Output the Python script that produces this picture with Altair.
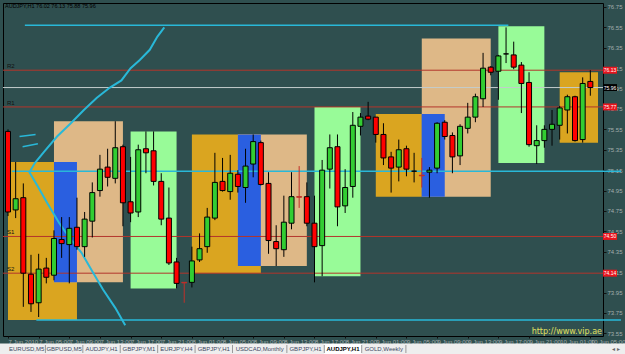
import altair as alt
import pandas as pd

symbol = "AUDJPY,H1"
bars = list(range(77))
opens = [75.53, 74.76, 74.88, 74.13, 73.85, 74.19, 74.12, 74.47, 74.42, 74.59,
         74.40, 74.65, 74.95, 75.18, 75.07, 75.38, 74.84, 74.74, 75.36, 75.34,
         75.04, 74.68, 74.25, 74.05, 74.05, 74.27, 74.40, 74.68, 75.04, 74.94,
         75.11, 74.98, 75.21, 75.42, 75.02, 74.45, 74.37, 74.63, 74.89, 74.89,
         74.63, 74.41, 75.16, 75.38, 74.80, 74.99, 75.58, 75.68, 75.67, 75.50,
         75.28, 75.18, 75.36, 75.14, 75.10, 75.13, 75.17, 75.62, 75.49, 75.29,
         75.56, 75.67, 75.85, 76.16, 76.12, 76.29, 76.28, 76.18, 76.01, 75.39,
         75.44, 75.55, 75.59, 75.74, 75.87, 75.45, 76.02]
highs = [75.55, 75.23, 75.02, 74.32, 74.33, 74.29, 74.56, 74.69, 74.69, 74.88,
         74.74, 75.03, 75.30, 75.36, 75.63, 75.40, 75.28, 75.40, 75.53, 75.53,
         75.12, 74.98, 74.29, 74.05, 74.40, 74.53, 74.78, 75.32, 75.27, 75.30,
         75.15, 75.36, 75.50, 75.44, 75.13, 74.61, 74.90, 75.13, 75.19, 75.03,
         74.90, 75.25, 75.50, 75.50, 75.16, 75.72, 75.71, 75.82, 75.67, 75.61,
         75.33, 75.45, 75.39, 75.32, 75.27, 75.18, 75.62, 75.64, 75.52, 75.60,
         75.81, 75.90, 76.30, 76.17, 76.28, 76.55, 76.41, 76.21, 76.11, 75.59,
         75.59, 75.74, 75.78, 75.89, 75.88, 76.06, 76.13]
lows = [74.70, 74.68, 73.81, 73.76, 73.71, 74.04, 74.07, 74.29, 74.04, 74.37,
        74.30, 74.49, 74.89, 74.99, 75.02, 74.60, 74.64, 74.69, 75.12, 75.00,
        74.61, 74.22, 73.99, 73.85, 74.00, 74.25, 74.34, 74.66, 74.94, 74.86,
        74.93, 74.83, 75.08, 75.00, 74.33, 74.21, 74.30, 74.57, 74.78, 74.60,
        74.05, 74.11, 74.97, 74.60, 74.73, 74.88, 75.49, 75.64, 75.42, 75.20,
        74.93, 75.04, 75.09, 75.03, 74.98, 74.88, 75.12, 75.45, 75.12, 75.20,
        75.51, 75.62, 75.77, 76.08, 75.84, 76.20, 76.14, 75.71, 75.38, 75.21,
        75.37, 75.39, 75.45, 75.51, 75.43, 75.42, 75.88]
closes = [74.74, 74.87, 74.14, 73.84, 74.18, 74.10, 74.48, 74.43, 74.58, 74.40,
          74.67, 74.93, 75.16, 75.08, 75.37, 74.83, 74.73, 75.35, 75.32, 75.04,
          74.67, 74.24, 74.04, 74.045, 74.26, 74.38, 74.69, 75.03, 74.95, 75.12,
          74.99, 75.19, 75.43, 75.01, 74.46, 74.38, 74.64, 74.89, 74.885, 74.63,
          74.40, 75.15, 75.37, 74.79, 74.98, 75.59, 75.67, 75.65, 75.50, 75.27,
          75.17, 75.35, 75.16, 75.14, 75.095, 75.15, 75.61, 75.48, 75.28, 75.58,
          75.67, 75.87, 76.15, 76.11, 76.27, 76.29, 76.16, 76.00, 75.40, 75.44,
          75.55, 75.60, 75.76, 75.87, 75.44, 76.00, 75.96]

time_ticks = [0, 4, 8, 12, 16, 20, 24, 28, 32, 36, 40, 44, 48, 52, 56, 60, 64, 68, 72, 76]
time_labels = ["7 Jun 2010", "7 Jun 05:00", "7 Jun 09:00", "7 Jun 13:00", "7 Jun 17:00",
               "7 Jun 21:00", "8 Jun 01:00", "8 Jun 05:00", "8 Jun 09:00", "8 Jun 13:00",
               "8 Jun 17:00", "8 Jun 21:00", "9 Jun 01:00", "9 Jun 05:00", "9 Jun 09:00",
               "9 Jun 13:00", "9 Jun 17:00", "9 Jun 21:00", "10 Jun 01:00", "10 Jun 05:00"]
price_ticks = [76.75, 76.55, 76.35, 76.15, 75.95, 75.75, 75.55, 75.35, 75.15,
               74.95, 74.75, 74.55, 74.35, 74.15, 73.95, 73.75, 73.55]

# session boxes
box_kind = ["orange", "tan", "blue", "green", "orange", "tan", "blue", "green",
            "orange", "tan", "blue", "green", "orange"]
box_start = [0, 6, 6, 16, 24, 30, 30, 40, 48, 54, 54, 64, 72]
box_end = [9, 15, 9, 22, 33, 39, 33, 46, 54, 63, 57, 70, 77]
box_top = [75.23, 75.63, 75.23, 75.53, 75.50, 75.50, 75.50, 75.77, 75.70, 76.44, 75.70, 76.56, 76.11]
box_bottom = [73.68, 74.05, 74.05, 73.99, 74.14, 74.21, 74.21, 74.11, 74.89, 74.89, 74.89, 75.22, 75.42]

# horizontal levels
level_prices = [76.13, 75.77, 74.50, 74.14]
level_names = ["R2", "R1", "S1", "S2"]
bid_price = 75.96

# cyan trend lines
trend_start = [2.2, 0.5, 3.7]
trend_end = [65.3, 80.0, 80.0]
trend_price = [76.57, 75.14, 73.68]

# hand-drawn cyan curve
curve_x = [20.4, 19.5, 18.5, 17.2, 16.0, 14.8, 13.3, 11.6, 9.9, 8.2, 6.4, 4.7, 3.5, 2.8,
           3.9, 5.1, 6.7, 8.0, 9.6, 10.9, 12.4, 14.0, 15.3]
curve_p = [76.55, 76.46, 76.33, 76.23, 76.15, 76.03, 75.96, 75.86, 75.74, 75.61, 75.48, 75.33,
           75.22, 75.13, 74.99, 74.83, 74.63, 74.49, 74.34, 74.17, 73.98, 73.80, 73.63]
stroke_x1 = [1.5, 1.9]
stroke_x2 = [3.6, 3.9]
stroke_p1 = [75.48, 75.38]
stroke_p2 = [75.50, 75.41]

tab_names = ["EURUSD,M5", "GBPUSD,M5", "AUDJPY,H1", "GBPJPY,M1", "EURJPY,H4", "GBPJPY,H1",
             "USDCAD,Monthly", "GBPJPY,H1", "AUDJPY,H1", "GOLD,Weekly"]
active_tab = 8
watermark = "http://www.vip.ae"

BG = "#2f4f4f"
UP = "#32cd32"
DOWN = "#ff0000"
CYAN = "#29b8d8"
LEVEL = "#b3352b"
AXIS_TXT = "#a3adad"
FONT = "Liberation Sans"

W, H = 600, 333
NBARS = 77
xs = alt.Scale(domain=[0, NBARS], nice=False, zero=False)
ys = alt.Scale(domain=[73.524, 76.789], nice=False, zero=False)

label_expr = "[" + ",".join(repr(t) for t in time_labels) + "][round(datum.value / 4)]"
axX = alt.Axis(values=time_ticks, labelExpr=label_expr, orient="bottom", title=None,
               labelAlign="left", labelBaseline="top", labelFontSize=6, labelFont=FONT,
               labelColor=AXIS_TXT, tickSize=2, tickColor="#111111", domain=False,
               grid=False, labelPadding=0, labelOverlap=False, labelBound=False,
               labelFlush=False)
axY = alt.Axis(orient="right", values=price_ticks, format=".2f", title=None,
               labelFontSize=6, labelFont=FONT, labelColor=AXIS_TXT, tickSize=3,
               tickColor="#111111", domain=False, grid=False, labelPadding=1,
               labelOverlap=False, labelBound=False, labelFlush=False)


def X(f):
    return alt.X(f, scale=xs, title=None, axis=axX)


def Y(f):
    return alt.Y(f, scale=ys, title=None, axis=axY)


candles = pd.DataFrame({"i": bars, "open": opens, "high": highs, "low": lows, "close": closes})
boxes = pd.DataFrame({"kind": box_kind, "s": box_start, "e": box_end, "top": box_top, "bot": box_bottom})
levels = pd.DataFrame({"p": level_prices, "name": level_names,
                       "lab": [f"{p:.2f}" for p in level_prices]})
bid = pd.DataFrame({"p": [bid_price], "lab": [f"{bid_price:.2f}"]})
trends = pd.DataFrame({"s": trend_start, "e": trend_end, "p": trend_price})
curve = pd.DataFrame({"x": curve_x, "p": curve_p, "o": list(range(len(curve_x)))})
strokes = pd.DataFrame({"x1": stroke_x1, "x2": stroke_x2, "p1": stroke_p1, "p2": stroke_p2})
header = pd.DataFrame({"t": [f"{symbol}  {opens[-1]:.2f} {highs[-1]:.2f} {lows[-1]:.2f} {closes[-1]:.2f}"]})
wm = pd.DataFrame({"t": [watermark]})

box_layer = alt.Chart(boxes).mark_rect(clip=True).encode(
    x=X("s:Q"), x2="e:Q", y=Y("top:Q"), y2="bot:Q",
    color=alt.Color("kind:N", legend=None,
                    scale=alt.Scale(domain=["orange", "tan", "blue", "green"],
                                    range=["#daa520", "#deb887", "#2a5fe0", "#98fb98"])),
)

level_layer = alt.Chart(levels).mark_rule(color=LEVEL, strokeWidth=1).encode(y=Y("p:Q"))
bid_layer = alt.Chart(bid).mark_rule(color="#c4cccc", strokeWidth=1).encode(y=Y("p:Q"))

trend_layer = alt.Chart(trends).mark_rule(color=CYAN, strokeWidth=1.5, clip=False).encode(
    x=X("s:Q"), x2="e:Q", y=Y("p:Q"))
curve_layer = alt.Chart(curve).mark_line(color=CYAN, strokeWidth=2).encode(
    x=X("x:Q"), y=Y("p:Q"), order="o:Q")
stroke_layer = alt.Chart(strokes).mark_rule(color=CYAN, strokeWidth=1.5).encode(
    x=X("x1:Q"), x2="x2:Q", y=Y("p1:Q"), y2="p2:Q")

thin_red = "datum.open - datum.close > 0 && datum.open - datum.close < 0.01"

wick_layer = alt.Chart(candles).mark_rule(strokeWidth=1, clip=True).encode(
    x=X("i:Q"), y=Y("low:Q"), y2="high:Q",
    color=alt.condition(thin_red, alt.value("#c0302a"), alt.value("#000000")),
)

body_layer = alt.Chart(candles).mark_bar(size=5, strokeWidth=1, clip=True).encode(
    x=X("i:Q"), y=Y("open:Q"), y2="close:Q",
    fill=alt.condition("datum.close > datum.open", alt.value(UP), alt.value(DOWN)),
    stroke=alt.condition(thin_red, alt.value("#c0302a"), alt.value("#000000")),
)

level_text = alt.Chart(levels).mark_text(align="left", baseline="bottom", dy=-1, fontSize=6,
                                         font=FONT, color="#111111").encode(
    x=alt.value(4), y=Y("p:Q"), text="name:N")

tag_rect = alt.Chart(levels).transform_calculate(
    a="datum.p + 0.034", b="datum.p - 0.034").mark_rect(color="#e8141c", clip=False).encode(
    x=alt.value(600), x2=alt.value(614), y=Y("a:Q"), y2="b:Q")
tag_text = alt.Chart(levels).mark_text(align="center", baseline="middle", fontSize=5,
                                       font=FONT, color="#ffffff").encode(
    x=alt.value(607), y=Y("p:Q"), text="lab:N")
bid_rect = alt.Chart(bid).transform_calculate(
    a="datum.p + 0.034", b="datum.p - 0.034").mark_rect(color="#000000", clip=False).encode(
    x=alt.value(600), x2=alt.value(614), y=Y("a:Q"), y2="b:Q")
bid_text = alt.Chart(bid).mark_text(align="center", baseline="middle", fontSize=5,
                                    font=FONT, color="#ffffff").encode(
    x=alt.value(607), y=Y("p:Q"), text="lab:N")

header_layer = alt.Chart(header).mark_text(align="left", baseline="middle", fontSize=5.5,
                                           font=FONT, color="#000000").encode(
    x=alt.value(2), y=alt.value(3), text="t:N")
wm_layer = alt.Chart(wm).mark_text(align="right", baseline="middle", fontSize=8,
                                   font="DejaVu Sans", color="#e0e060").encode(
    x=alt.value(599), y=alt.value(329), text="t:N")

# tab bar: tab widths follow the length of each name, converted to bar-index units
px_per_bar = W / NBARS
lefts, rights = [], []
pos = 0.0
for n in tab_names:
    w = 3.45 * len(n) + 7
    lefts.append(pos / px_per_bar)
    rights.append((pos + w) / px_per_bar)
    pos += w
tabs = pd.DataFrame({"name": tab_names, "l": lefts, "r": rights,
                     "act": [k == active_tab for k in range(len(tab_names))]})

bar_bg = alt.Chart(pd.DataFrame({"k": [0]})).mark_rect(color="#eeeeee", clip=False).encode(
    x=alt.value(-3), x2=alt.value(622), y=alt.value(340.5), y2=alt.value(351))
tab_rect = alt.Chart(tabs).mark_rect(clip=False).encode(
    x=X("l:Q"), x2="r:Q",
    y=alt.value(341), y2=alt.value(351),
    color=alt.condition("datum.act", alt.value("#ffffff"), alt.value("#eeeeee")))
tab_sep = alt.Chart(tabs).mark_rule(color="#9a9a9a", strokeWidth=1, clip=False).encode(
    x=X("r:Q"), y=alt.value(342), y2=alt.value(350))
tab_text_norm = alt.Chart(tabs).transform_filter("!datum.act").transform_calculate(
    m="(datum.l + datum.r) / 2").mark_text(
    baseline="middle", fontSize=6, font=FONT, clip=False, color="#3c4660").encode(
    x=X("m:Q"), y=alt.value(346), text="name:N")
tab_text_act = alt.Chart(tabs).transform_filter("datum.act").transform_calculate(
    m="(datum.l + datum.r) / 2").mark_text(
    baseline="middle", fontSize=6, font=FONT, clip=False, color="#000000",
    fontWeight="bold").encode(
    x=X("m:Q"), y=alt.value(346), text="name:N")
arrows = alt.Chart(pd.DataFrame({"t": ["◂  ▸"]})).mark_text(
    fontSize=6, font="DejaVu Sans", color="#666666", align="center", baseline="middle").encode(
    x=alt.value(613), y=alt.value(346), text="t:N")

chart = alt.layer(box_layer, level_layer, bid_layer, trend_layer, curve_layer, stroke_layer,
                  wick_layer, body_layer, level_text, tag_rect, tag_text, bid_rect, bid_text,
                  header_layer, wm_layer,
                  bar_bg, tab_rect, tab_sep, tab_text_norm, tab_text_act, arrows).properties(
    width=W, height=H,
    autosize=alt.AutoSizeParams(type="none"),
    padding={"left": 3, "top": 3, "right": 22, "bottom": 18},
    background=BG,
).configure_view(stroke="#000000", strokeWidth=1, fill=BG)

chart.save("out.html", embed_options={"renderer": "svg", "actions": False})
